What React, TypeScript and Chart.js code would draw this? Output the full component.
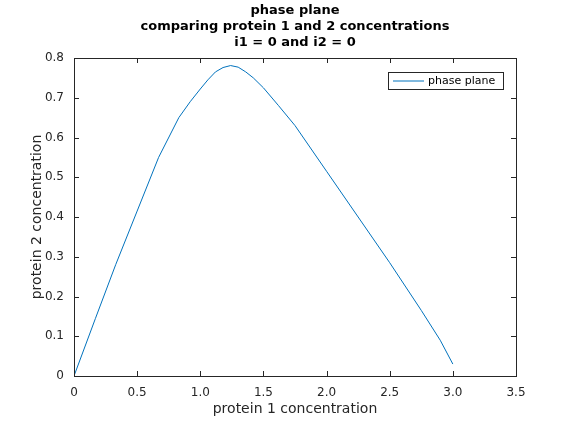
import React, { useEffect, useRef } from 'react';
import { Chart, registerables, ChartConfiguration, Plugin } from 'chart.js';

Chart.register(...registerables);

const xValues = [0, 0.17, 0.33, 0.5, 0.67, 0.83, 0.92, 1.0, 1.06, 1.12, 1.18, 1.24, 1.3, 1.36, 1.42, 1.5, 1.62, 1.75, 2.0, 2.25, 2.5, 2.75, 2.9, 3.0];
const yValues = [0, 0.145, 0.28, 0.415, 0.55, 0.65, 0.69, 0.722, 0.745, 0.765, 0.776, 0.781, 0.777, 0.765, 0.75, 0.725, 0.68, 0.63, 0.515, 0.4, 0.285, 0.165, 0.09, 0.03];
const xTicks = [0, 0.5, 1, 1.5, 2, 2.5, 3, 3.5];
const yTicks = [0, 0.1, 0.2, 0.3, 0.4, 0.5, 0.6, 0.7, 0.8];
const titleLines = ['phase plane', 'comparing protein 1 and 2 concentrations', 'i1 = 0 and i2 = 0'];
const seriesLabel = 'phase plane';
const xTitle = 'protein 1 concentration';
const yTitle = 'protein 2 concentration';

const LINE = '#0072bd';
const TEXT = '#262626';
const FONT = '"DejaVu Sans", sans-serif';

const matlabFrame: Plugin = {
  id: 'matlabFrame',
  afterDraw(chart) {
    const { ctx, chartArea: a, scales } = chart;
    const x = scales.x, y = scales.y;
    ctx.save();
    ctx.strokeStyle = TEXT;
    ctx.lineWidth = 1;
    ctx.strokeRect(a.left + 0.5, a.top + 0.5, a.right - a.left, a.bottom - a.top);
    ctx.beginPath();
    xTicks.forEach(t => {
      const px = Math.round(x.getPixelForValue(t)) + 0.5;
      ctx.moveTo(px, a.bottom); ctx.lineTo(px, a.bottom - 5);
      ctx.moveTo(px, a.top); ctx.lineTo(px, a.top + 5);
    });
    yTicks.forEach(t => {
      const py = Math.round(y.getPixelForValue(t)) + 0.5;
      ctx.moveTo(a.left, py); ctx.lineTo(a.left + 5, py);
      ctx.moveTo(a.right, py); ctx.lineTo(a.right - 5, py);
    });
    ctx.stroke();

    // title
    ctx.fillStyle = '#000';
    ctx.font = `bold 13px ${FONT}`;
    ctx.textAlign = 'center';
    ctx.textBaseline = 'middle';
    const cx = (a.left + a.right) / 2;
    titleLines.forEach((l, i) => ctx.fillText(l, cx, 11 + i * 16));

    // axis titles
    ctx.fillStyle = TEXT;
    ctx.font = `14px ${FONT}`;
    ctx.fillText(xTitle, cx, 409);
    ctx.translate(37, (a.top + a.bottom) / 2);
    ctx.rotate(-Math.PI / 2);
    ctx.fillText(yTitle, 0, 0);
    ctx.setTransform(1, 0, 0, 1, 0, 0);

    // legend
    const lx = 388, ly = 72, lw = 115, lh = 17;
    ctx.fillStyle = '#fff';
    ctx.fillRect(lx, ly, lw, lh);
    ctx.strokeStyle = TEXT;
    ctx.strokeRect(lx + 0.5, ly + 0.5, lw, lh);
    ctx.strokeStyle = LINE;
    ctx.beginPath();
    ctx.moveTo(lx + 5, ly + 9); ctx.lineTo(lx + 36, ly + 9);
    ctx.stroke();
    ctx.fillStyle = '#000';
    ctx.font = `11px ${FONT}`;
    ctx.textAlign = 'left';
    ctx.fillText(seriesLabel, lx + 40, ly + 9.5);
    ctx.restore();
  },
};

const App: React.FC = () => {
  const canvasRef = useRef<HTMLCanvasElement>(null);

  useEffect(() => {
    document.body.style.margin = '0';
    if (!canvasRef.current) return;
    const tickFont = { family: FONT, size: 12 };
    const config: ChartConfiguration<'line'> = {
      type: 'line',
      data: {
        datasets: [{
          label: seriesLabel,
          data: xValues.map((v, i) => ({ x: v, y: yValues[i] })),
          borderColor: LINE,
          borderWidth: 1,
          pointRadius: 0,
          tension: 0,
        }],
      },
      options: {
        responsive: false,
        animation: false,
        layout: { padding: { top: 58, right: 54, left: 0, bottom: 0 } },
        plugins: { legend: { display: false }, title: { display: false }, tooltip: { enabled: false } },
        scales: {
          x: {
            type: 'linear', min: 0, max: 3.5,
            afterBuildTicks: s => { s.ticks = xTicks.map(v => ({ value: v })); },
            afterFit: s => { s.height = 46; },
            grid: { display: false },
            border: { display: false },
            ticks: { color: TEXT, font: tickFont, padding: 2, maxRotation: 0 },
          },
          y: {
            type: 'linear', min: 0, max: 0.8,
            afterBuildTicks: s => { s.ticks = yTicks.map(v => ({ value: v })); },
            afterFit: s => { s.width = 74; },
            grid: { display: false },
            border: { display: false },
            ticks: { color: TEXT, font: tickFont, padding: 2, callback: v => String(v) },
          },
        },
      },
      plugins: [matlabFrame],
    };
    const chart = new Chart(canvasRef.current, config);
    return () => chart.destroy();
  }, []);

  return (
    <div style={{ width: 570, height: 422, background: '#fff' }}>
      <canvas ref={canvasRef} width={570} height={422} />
    </div>
  );
};

export default App;
